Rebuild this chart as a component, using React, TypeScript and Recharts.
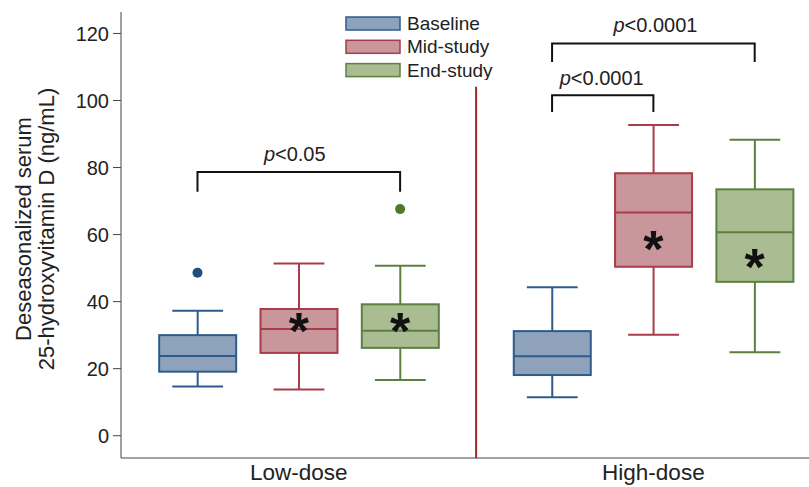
import { ComposedChart, Bar, Scatter, Line, XAxis, YAxis, ReferenceLine, Legend, Label } from 'recharts';

const groups = ['Low-dose', 'High-dose'];
const groupTicks = [2, 5.5];
const seriesNames = ['Baseline', 'Mid-study', 'End-study'];
const fills = ['#8ea3bb', '#c9969c', '#a9bc92'];
const strokes = ['#2e5b8c', '#a83c48', '#5b8040'];
const dotColors = ['#1f4f80', '#a83c48', '#4e7a2e'];

// box plots: low-dose (1,2,3), high-dose (4.5,5.5,6.5)
const boxPos = [1, 2, 3, 4.5, 5.5, 6.5];
const boxSeries = [0, 1, 2, 0, 1, 2];
const whiskerLow = [14.7, 13.8, 16.6, 11.5, 30.1, 24.9];
const q1 = [19.1, 24.7, 26.2, 18.1, 50.4, 45.9];
const median = [23.8, 31.8, 31.3, 23.7, 66.6, 60.7];
const q3 = [30.0, 37.8, 39.2, 31.2, 78.3, 73.5];
const whiskerHigh = [37.3, 51.4, 50.7, 44.3, 92.7, 88.3];

const outlierPos = [1, 3];
const outlierVal = [48.6, 67.6];
const outlierSeries = [0, 2];

const meanPos = [2, 3, 5.5, 6.5];
const meanVal = [34.5, 34.5, 59.0, 53.6];

// significance brackets
const bracketFrom = [1, 4.5, 4.5];
const bracketTo = [3, 5.5, 6.5];
const bracketTop = [78.7, 101.6, 117.0];
const bracketFoot = [72.8, 96.6, 111.5];
const bracketText = ['<0.05', '<0.0001', '<0.0001'];
const bracketTextPos = [1.96, 4.99, 5.52];
const bracketTextVal = [84.0, 106.7, 122.5];

const dividerPos = 3.75;
const dividerTop = 104.1;

const yMin = -6.65;
const yMax = 126.4;

const boxes = boxPos.map((pos, i) => ({
  pos,
  s: boxSeries[i],
  lo: whiskerLow[i],
  q1: q1[i],
  med: median[i],
  q3: q3[i],
  hi: whiskerHigh[i],
}));

const outliers = outlierPos.map((pos, i) => ({ pos, v: outlierVal[i], s: outlierSeries[i] }));
const means = meanPos.map((pos, i) => ({ pos, v: meanVal[i] }));
const notes = bracketTextPos.map((pos, i) => ({ pos, v: bracketTextVal[i], t: bracketText[i] }));
const brackets = bracketFrom.map((from, i) => [
  { pos: from, v: bracketFoot[i] },
  { pos: from, v: bracketTop[i] },
  { pos: bracketTo[i], v: bracketTop[i] },
  { pos: bracketTo[i], v: bracketFoot[i] },
]);

const font = '"Liberation Sans", Arial, sans-serif';
const BOX_W = 77;

const BoxShape = (props: any) => {
  const { x, y, width, height, payload } = props;
  const d = payload;
  const top = Math.min(y, y + height);
  const h = Math.abs(height);
  const k = h / (d.hi - d.lo);
  const py = (v: number) => top + (d.hi - v) * k;
  const cx = x + width / 2;
  const left = cx - BOX_W / 2;
  const cap = BOX_W * 0.33;
  const stroke = strokes[d.s];
  return (
    <g>
      <line x1={cx} x2={cx} y1={py(d.hi)} y2={py(d.q3)} stroke={stroke} strokeWidth={2} />
      <line x1={cx} x2={cx} y1={py(d.q1)} y2={py(d.lo)} stroke={stroke} strokeWidth={2} />
      <line x1={cx - cap} x2={cx + cap} y1={py(d.hi)} y2={py(d.hi)} stroke={stroke} strokeWidth={2} />
      <line x1={cx - cap} x2={cx + cap} y1={py(d.lo)} y2={py(d.lo)} stroke={stroke} strokeWidth={2} />
      <rect x={left} y={py(d.q3)} width={BOX_W} height={py(d.q1) - py(d.q3)} fill={fills[d.s]} stroke={stroke} strokeWidth={2} />
      <line x1={left} x2={left + BOX_W} y1={py(d.med)} y2={py(d.med)} stroke={stroke} strokeWidth={2} />
    </g>
  );
};

const OutlierShape = (props: any) => (
  <circle cx={props.cx} cy={props.cy} r={5} fill={dotColors[props.payload.s]} />
);

// asterisk glyph centre sits about 0.56em above the baseline
const MeanShape = (props: any) => (
  <text x={props.cx} y={props.cy + 29} textAnchor="middle" fontSize={52} fontWeight="bold" fill="#111" fontFamily={font}>*</text>
);

const NoteShape = (props: any) => (
  <text x={props.cx} y={props.cy} textAnchor="middle" dominantBaseline="central" fontSize={20} fill="#222" fontFamily={font}>
    <tspan fontStyle="italic">p</tspan>{props.payload.t}
  </text>
);

const LegendBox = () => (
  <svg width={170} height={80}>
    {seriesNames.map((name, i) => (
      <g key={name}>
        <rect x={1} y={17 + i * 23.3} width={54} height={13} fill={fills[i]} stroke={strokes[i]} strokeWidth={1.5} />
        <text x={62} y={30 + i * 23.3} fontSize={19} fill="#222" fontFamily={font}>{name}</text>
      </g>
    ))}
  </svg>
);

const YLabel = () => (
  <g fontFamily={font} fontSize={22} fill="#222">
    <text transform="translate(31,229) rotate(-90)" textAnchor="middle">Deseasonalized serum</text>
    <text transform="translate(54,229) rotate(-90)" textAnchor="middle">25-hydroxyvitamin D (ng/mL)</text>
  </g>
);

export default function App() {
  return (
    <div style={{ position: 'absolute', left: 0, top: 0, background: '#fff' }}>
      <ComposedChart
        width={809}
        height={487}
        data={boxes}
        margin={{ top: 12, right: 0, bottom: 0, left: 0 }}
        style={{ fontFamily: font }}
      >
        <XAxis
          type="number"
          dataKey="pos"
          domain={[0.245, 7.036]}
          allowDataOverflow
          ticks={groupTicks}
          tickFormatter={(v: number) => groups[groupTicks.indexOf(v)] ?? ''}
          tickLine={false}
          tickSize={0}
          tickMargin={6}
          height={29}
          stroke="#444"
          tick={{ fontSize: 22.5, fill: '#222' }}
        />
        <YAxis
          type="number"
          domain={[yMin, yMax]}
          allowDataOverflow
          ticks={[0, 20, 40, 60, 80, 100, 120]}
          width={121}
          tickSize={8}
          tickMargin={4}
          stroke="#444"
          tick={{ fontSize: 20, fill: '#222' }}
        >
          <Label content={() => <YLabel />} />
        </YAxis>
        <Legend
          layout="vertical"
          align="center"
          verticalAlign="middle"
          wrapperStyle={{ top: 0, left: 345, width: 170 }}
          content={() => <LegendBox />}
        />
        <ReferenceLine
          segment={[{ x: dividerPos, y: yMin }, { x: dividerPos, y: dividerTop }]}
          stroke="#a3282e"
          strokeWidth={2}
          ifOverflow="extendDomain"
        />
        <Bar
          dataKey={(d: any) => [d.lo, d.hi]}
          shape={BoxShape}
          isAnimationActive={false}
        />
        <Scatter data={outliers} dataKey="v" shape={OutlierShape} isAnimationActive={false} />
        <Scatter data={means} dataKey="v" shape={MeanShape} isAnimationActive={false} />
        {brackets.map((pts, i) => (
          <Line
            key={i}
            data={pts}
            dataKey="v"
            type="linear"
            stroke="#111"
            strokeWidth={2}
            dot={false}
            activeDot={false}
            isAnimationActive={false}
          />
        ))}
        <Scatter data={notes} dataKey="v" shape={NoteShape} isAnimationActive={false} />
      </ComposedChart>
    </div>
  );
}
